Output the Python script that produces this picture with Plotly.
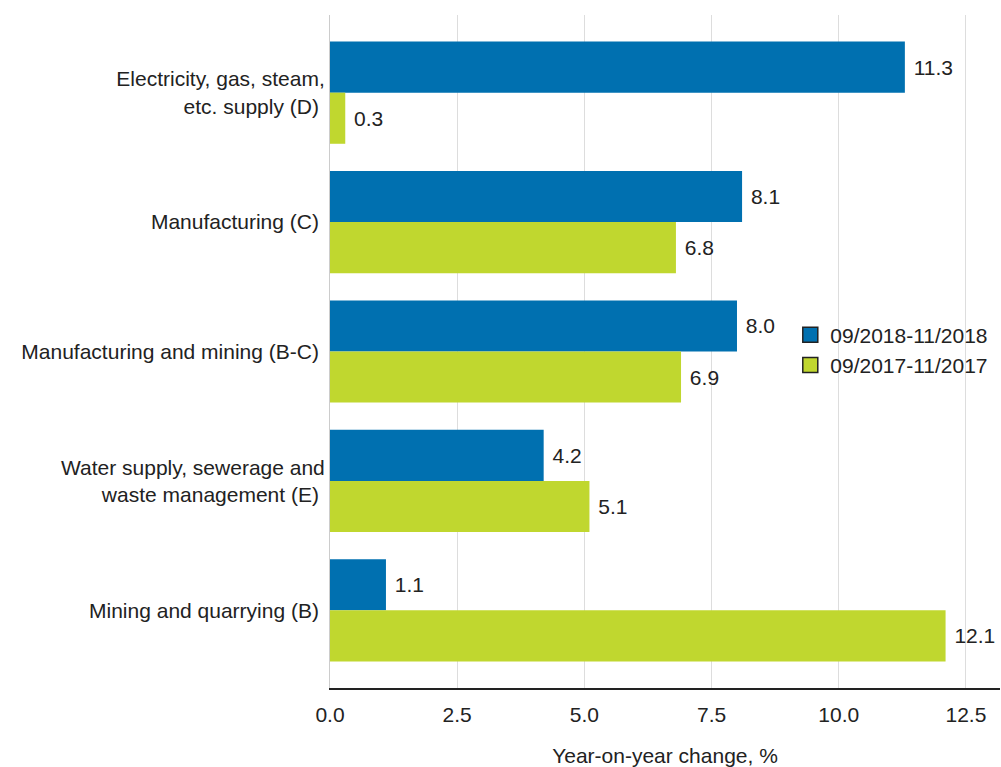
import plotly.graph_objects as go

categories = ["Electricity, gas, steam,<br>etc. supply (D)", "Manufacturing (C)",
              "Manufacturing and mining (B-C)", "Water supply, sewerage and<br>waste management (E)",
              "Mining and quarrying (B)"]
series_2018 = [11.3, 8.1, 8.0, 4.2, 1.1]
series_2017 = [0.3, 6.8, 6.9, 5.1, 12.1]
names = ["09/2018-11/2018", "09/2017-11/2017"]
tick_vals = [0, 2.5, 5, 7.5, 10, 12.5]

blue = "#0070b0"
green = "#c0d72f"
font = "Liberation Sans, Arial, sans-serif"
FS = 21

fig = go.Figure()
for vals, col, nm in [(series_2018, blue, names[0]), (series_2017, green, names[1])]:
    fig.add_trace(go.Bar(y=categories, x=vals, orientation="h", name=nm, showlegend=False,
                         marker=dict(color=col, line=dict(width=0)),
                         text=[f" {v:.1f}" for v in vals], textposition="outside",
                         textfont=dict(size=FS, color="#222"), cliponaxis=False))
for col, nm in [(blue, names[0]), (green, names[1])]:
    fig.add_trace(go.Scatter(x=[None], y=[None], mode="markers", name=nm, showlegend=True,
                             marker=dict(symbol="square", size=15, color=col,
                                         line=dict(color="#222", width=1.5))))

fig.update_layout(
    width=1001, height=767,
    margin=dict(l=330, r=1, t=15, b=79),
    barmode="group", bargap=0.21, bargroupgap=0,
    plot_bgcolor="white", paper_bgcolor="white",
    font=dict(family=font, size=FS, color="#222"),
    legend=dict(x=0.687, y=0.502, xanchor="left", yanchor="middle",
                font=dict(size=FS), traceorder="normal", itemwidth=30,
                tracegroupgap=0, bgcolor="rgba(255,255,255,0)"),
    xaxis=dict(range=[0, 13.17], tickvals=tick_vals, tickformat=".1f",
               showgrid=True, gridcolor="#dddddd", gridwidth=1,
               showline=True, linecolor="#222", linewidth=1.5,
               zeroline=False, ticks="", tickfont=dict(size=FS), ticklabelstandoff=7,
               title=dict(text="Year-on-year change, %", font=dict(size=FS), standoff=23)),
    yaxis=dict(categoryorder="array", categoryarray=categories, autorange=False,
               range=[4.6, -0.6], showline=True, linecolor="#cccccc", linewidth=1,
               ticks="", tickfont=dict(size=FS), ticksuffix=" "),
)

fig.write_html("out.html", config={"displayModeBar": False},
               post_script="document.body.style.margin='0';document.body.style.overflow='hidden';")
